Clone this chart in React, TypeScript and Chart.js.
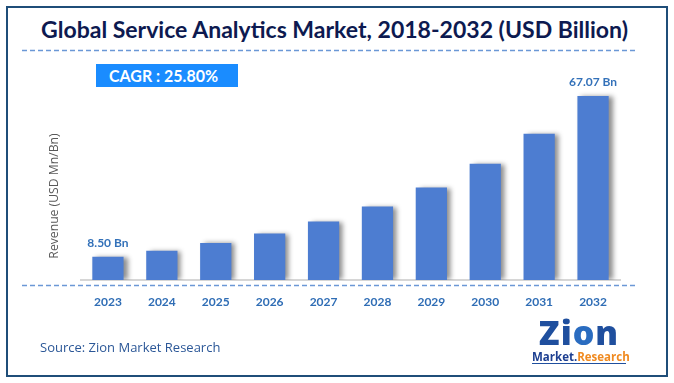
import React, { useEffect, useLayoutEffect, useRef } from "react";
import { Chart, registerables } from "chart.js";

Chart.register(...registerables);

const years = ["2023", "2024", "2025", "2026", "2027", "2028", "2029", "2030", "2031", "2032"];
const revenue = [8.5, 10.69, 13.45, 16.92, 21.29, 26.78, 33.69, 42.38, 53.32, 67.07];
const valueLabels = ["8.50 Bn", "", "", "", "", "", "", "", "", "67.07 Bn"];
const titleText = "Global Service Analytics Market, 2018-2032 (USD Billion)";
const cagrText = "CAGR : 25.80%";
const yAxisTitle = "Revenue (USD Mn/Bn)";
const sourceText = "Source: Zion Market Research";

const HEAD = 'Lato, "Open Sans", sans-serif';
const BODY = '"Open Sans", "Liberation Sans", sans-serif';

const shadowPlugin = {
  id: "barShadow",
  beforeDatasetsDraw(chart: any) {
    const ctx = chart.ctx;
    ctx.save();
    ctx.shadowColor = "rgba(0,0,0,0.45)";
    ctx.shadowOffsetX = 4;
    ctx.shadowOffsetY = 0;
    ctx.shadowBlur = 5;
  },
  afterDatasetsDraw(chart: any) {
    chart.ctx.restore();
  },
};

const valueLabelPlugin = {
  id: "valueLabels",
  afterDraw(chart: any) {
    const ctx = chart.ctx;
    const meta = chart.getDatasetMeta(0);
    ctx.save();
    ctx.fillStyle = "#3371b9";
    ctx.font = `bold 12px ${HEAD}`;
    ctx.textAlign = "center";
    ctx.textBaseline = "middle";
    meta.data.forEach((bar: any, i: number) => {
      const t = valueLabels[i];
      if (!t) return;
      ctx.fillText(t, bar.x, bar.y - 14);
    });
    ctx.restore();
  },
};

function Dashed({ x1, x2, y }: { x1: number; x2: number; y: number }) {
  return (
    <svg
      width={674}
      height={383}
      style={{ position: "absolute", left: 0, top: 0, pointerEvents: "none" }}
    >
      <line x1={x1} x2={x2} y1={y} y2={y} stroke="#6b98d6" strokeWidth={1.3} strokeDasharray="5 3" />
    </svg>
  );
}

function FitText({
  text,
  left,
  top,
  width,
  style,
}: {
  text: string;
  left: number;
  top: number;
  width: number;
  style: React.CSSProperties;
}) {
  const ref = useRef<HTMLSpanElement | null>(null);
  useLayoutEffect(() => {
    const el = ref.current;
    if (!el) return;
    el.style.transform = "none";
    const w = el.getBoundingClientRect().width;
    if (w > 0) el.style.transform = `scaleX(${width / w})`;
  }, [text, width]);
  return (
    <span
      ref={ref}
      style={{
        position: "absolute",
        left,
        top,
        whiteSpace: "nowrap",
        transformOrigin: "0 0",
        display: "inline-block",
        ...style,
      }}
    >
      {text}
    </span>
  );
}

export default function App() {
  const canvasRef = useRef<HTMLCanvasElement | null>(null);

  useEffect(() => {
    const canvas = canvasRef.current;
    if (!canvas) return;
    const chart = new Chart(canvas, {
      type: "bar",
      data: {
        labels: years,
        datasets: [
          {
            data: revenue,
            backgroundColor: "#4d7dd1",
            borderWidth: 0,
            barPercentage: 0.58,
            categoryPercentage: 1,
          },
        ],
      },
      options: {
        responsive: false,
        animation: false,
        devicePixelRatio: 1,
        layout: { padding: { left: 81, right: 54, top: 60.5, bottom: 66.6 } },
        plugins: {
          legend: { display: false },
          tooltip: { enabled: false },
          title: { display: false },
        },
        scales: {
          x: {
            grid: { display: false },
            border: { display: true, color: "#d6d6d6", width: 2 },
            ticks: {
              color: "#2f6db5",
              font: { family: HEAD, size: 12, weight: "bold" },
              padding: 7,
            },
          },
          y: {
            display: false,
            min: 0,
            max: 80,
          },
        },
      },
      plugins: [shadowPlugin, valueLabelPlugin],
    });
    return () => chart.destroy();
  }, []);

  return (
    <div
      style={{
        position: "absolute",
        left: 0,
        top: 0,
        width: 674,
        height: 383,
        background: "#ffffff",
        overflow: "hidden",
      }}
    >
      <div
        style={{
          position: "absolute",
          left: 6,
          top: 6,
          width: 662,
          height: 371,
          boxSizing: "border-box",
          border: "2px solid #1f4e79",
        }}
      />
      <FitText
        text={titleText}
        left={41}
        top={15}
        width={587}
        style={{
          fontFamily: HEAD,
          fontWeight: "bold",
          fontSize: 22,
          color: "#0d1a50",
          lineHeight: "30px",
        }}
      />
      <Dashed x1={22} x2={638} y={50.5} />
      <div
        style={{
          position: "absolute",
          left: 96,
          top: 64,
          width: 142,
          height: 23,
          background: "#1a8cff",
        }}
      />
      <FitText
        text={cagrText}
        left={109}
        top={64}
        width={109}
        style={{
          fontFamily: HEAD,
          fontWeight: "bold",
          fontSize: 17,
          lineHeight: "23px",
          color: "#ffffff",
        }}
      />
      <canvas
        ref={canvasRef}
        width={674}
        height={383}
        style={{ position: "absolute", left: 0, top: 0, width: 674, height: 383 }}
      />
      <Dashed x1={22} x2={638} y={285.5} />
      <div
        style={{
          position: "absolute",
          left: 53,
          top: 196,
          transform: "translate(-50%, -50%) rotate(-90deg)",
          fontFamily: BODY,
          fontSize: 12.2,
          color: "#595959",
          whiteSpace: "nowrap",
        }}
      >
        {yAxisTitle}
      </div>
      <div
        style={{
          position: "absolute",
          left: 40,
          top: 338,
          fontFamily: BODY,
          fontSize: 13,
          color: "#2b5797",
          whiteSpace: "nowrap",
          lineHeight: "18px",
        }}
      >
        {sourceText}
      </div>
      <div
        style={{
          position: "absolute",
          left: 532,
          top: 314,
          width: 94,
          textAlign: "center",
          whiteSpace: "nowrap",
          fontFamily: BODY,
        }}
      >
        <div
          style={{
            fontSize: 34,
            fontWeight: 800,
            lineHeight: "36px",
            color: "#1f4f9e",
            letterSpacing: 1,
          }}
        >
          <span style={{ color: "#1f4f9e" }}>Z</span>
          <span>i</span>
          <span style={{ color: "#2a6cc0" }}>o</span>
          <span>n</span>
        </div>
        <div style={{ fontSize: 11.5, fontWeight: 700, lineHeight: "13px", borderBottom: "1px solid #1f4f9e" }}>
          <span style={{ color: "#1d3f91" }}>Market</span>
          <span style={{ color: "#1d3f91" }}>.</span>
          <span style={{ color: "#f08a20" }}>Research</span>
        </div>
      </div>
    </div>
  );
}
